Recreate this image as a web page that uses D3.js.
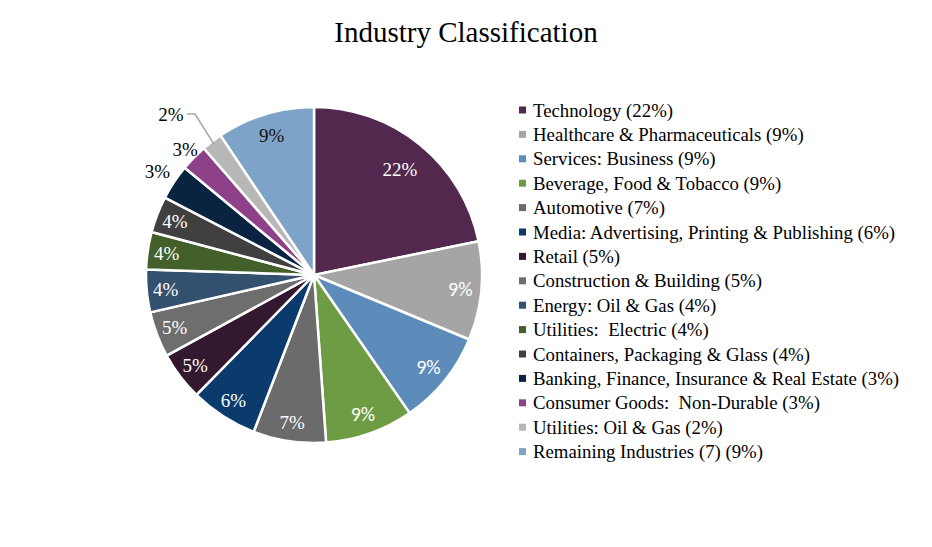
<!DOCTYPE html>
<html><head><meta charset="utf-8">
<script src="https://cdn.jsdelivr.net/npm/d3@7"></script>
<style>body{margin:0;background:#fff}</style>
</head><body>
<svg id="chart" width="932" height="547"></svg>
<script>
const categories = ["Technology","Healthcare & Pharmaceuticals","Services: Business","Beverage, Food & Tobacco","Automotive","Media: Advertising, Printing & Publishing","Retail","Construction & Building","Energy: Oil & Gas","Utilities:  Electric","Containers, Packaging & Glass","Banking, Finance, Insurance & Real Estate","Consumer Goods:  Non-Durable","Utilities: Oil & Gas","Remaining Industries (7)"];
const values = [21.8,9.5,9.1,8.5,7.0,6.5,4.7,4.4,4.1,3.6,3.5,3.4,2.6,2.0,9.4];
const pctLabels = ["22%","9%","9%","9%","7%","6%","5%","5%","4%","4%","4%","3%","3%","2%","9%"];
const colors = ["#52284e","#a5a5a5","#5d8cba","#6e9c45","#6b6b6b","#0b3b6d","#33182f","#6e6e6e","#34506f","#43602a","#404040","#0a2341","#8e4189","#b7b7b7","#7ea3c8"];

const svg = d3.select("#chart");
const serif = "'Liberation Serif','Times New Roman',serif";
const sans = "Carlito,Lato,'Liberation Sans',sans-serif";

svg.append("text").attr("x",466).attr("y",42).attr("text-anchor","middle")
  .style("font-family",serif).style("font-size","29px").attr("fill","#000").text("Industry Classification");

const cx=314, cy=275, R=168;
const g = svg.append("g").attr("transform",`translate(${cx},${cy})`);
const pie = d3.pie().sort(null).value(d=>d)(values);
const arc = d3.arc().innerRadius(0).outerRadius(R);
g.selectAll("path.slice").data(pie).join("path").attr("class","slice")
  .attr("d",arc).attr("fill",(d,i)=>colors[i]).attr("stroke","#fff").attr("stroke-width",2.5).attr("stroke-linejoin","round");

const labelStyle = {
  0:{r:136,font:serif,fill:"#fff",size:19},
  1:{r:147,font:sans,fill:"#fff",size:20},
  2:{r:147,font:sans,fill:"#fff",size:20},
  3:{r:147,font:sans,fill:"#fff",size:20},
  14:{r:146,font:serif,fill:"#111",size:19}
};
pie.forEach((d,i)=>{
  const mid=(d.startAngle+d.endAngle)/2;
  let x,y,font=serif,fill="#fff",size=19;
  if(i===11||i===12||i===13){
    const rr = {11:188,12:180,13:201}[i];
    x = Math.sin(mid)*rr; y=-Math.cos(mid)*rr;
    if(i===13){ x=-143; y=-161; }
    fill="#000";
  } else {
    const st = labelStyle[i]||{r:149,font:serif,fill:"#fff",size:19};
    x=Math.sin(mid)*st.r; y=-Math.cos(mid)*st.r; font=st.font; fill=st.fill; size=st.size;
  }
  g.append("text").attr("x",x).attr("y",y).attr("dy","0.35em").attr("text-anchor","middle")
    .style("font-family",font).style("font-size",size+"px").attr("fill",fill).text(pctLabels[i]);
  if(i===13){
    const ex=Math.sin(mid)*(R-3), ey=-Math.cos(mid)*(R-3);
    g.append("polyline").attr("points",`${x+16},${y} ${x+24},${y} ${ex},${ey}`)
      .attr("fill","none").attr("stroke","#a5a5a5").attr("stroke-width",1.5);
  }
});

const lg = svg.append("g").attr("transform","translate(519,110)");
categories.forEach((c,i)=>{
  const row = lg.append("g").attr("transform",`translate(0,${i*24.4})`);
  row.append("rect").attr("x",0).attr("y",-3.5).attr("width",7).attr("height",7).attr("fill",colors[i]);
  row.append("text").attr("x",14).attr("y",0).attr("dy","0.35em")
    .style("font-family",serif).style("font-size","18.8px").attr("fill","#000")
    .style("white-space","pre").text(`${c} (${pctLabels[i]})`);
});
</script>
</body></html>
